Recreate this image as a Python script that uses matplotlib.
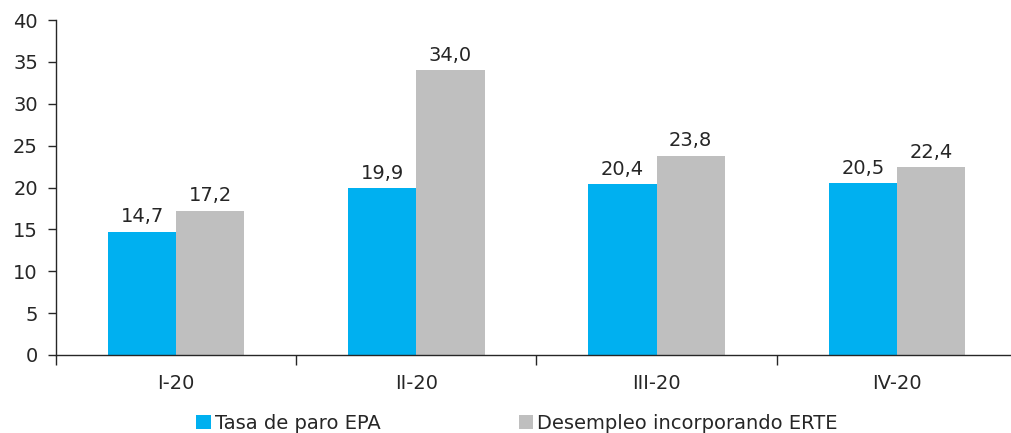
import numpy as np
import matplotlib.pyplot as plt

trimestres = ["I-20", "II-20", "III-20", "IV-20"]
tasa_paro_epa = [14.7, 19.9, 20.4, 20.5]
desempleo_erte = [17.2, 34.0, 23.8, 22.4]

AZUL = "#00B0F0"
GRIS = "#BFBFBF"
TEXTO = "#262626"
FS = 14

plt.rcParams["font.family"] = ["DejaVu Sans"]

fig = plt.figure(figsize=(10.12, 4.33), dpi=100)
ax = fig.add_axes([56 / 1012, 1 - 355 / 433, 961 / 1012, 335 / 433])

x = np.arange(len(trimestres))
w = 0.284
b1 = ax.bar(x - w / 2, tasa_paro_epa, w, color=AZUL, label="Tasa de paro EPA")
b2 = ax.bar(x + w / 2, desempleo_erte, w, color=GRIS, label="Desempleo incorporando ERTE")

for bars, vals in ((b1, tasa_paro_epa), (b2, desempleo_erte)):
    for rect, v in zip(bars, vals):
        ax.annotate(f"{v:.1f}".replace(".", ","),
                    (rect.get_x() + rect.get_width() / 2, v),
                    xytext=(0, 4), textcoords="offset points",
                    ha="center", va="bottom", fontsize=FS, color=TEXTO)

ax.set_xlim(-0.5, len(trimestres) - 0.5)
ax.set_ylim(0, 40)
ax.set_yticks(range(0, 41, 5))
ax.tick_params(axis="y", labelsize=FS, colors=TEXTO, length=6, width=1, pad=7)

# category labels centred, tick marks on group boundaries
ax.set_xticks(x)
ax.set_xticklabels(trimestres)
ax.set_xticks(np.arange(-0.5, len(trimestres)), minor=True)
ax.tick_params(axis="x", which="major", length=0, labelsize=FS, colors=TEXTO, pad=14)
ax.tick_params(axis="x", which="minor", length=7, width=1, color=TEXTO)

for s in ("top", "right"):
    ax.spines[s].set_visible(False)
for s in ("left", "bottom"):
    ax.spines[s].set_color(TEXTO)
    ax.spines[s].set_linewidth(1)

fig.legend(handles=[b1, b2], loc="lower left", bbox_to_anchor=(179 / 1012, -0.04),
           ncol=2, frameon=False, fontsize=FS, handlelength=0.75, handleheight=0.75,
           handletextpad=0.2, columnspacing=7.1, labelcolor=TEXTO)

fig.savefig("out.png", dpi=100)
